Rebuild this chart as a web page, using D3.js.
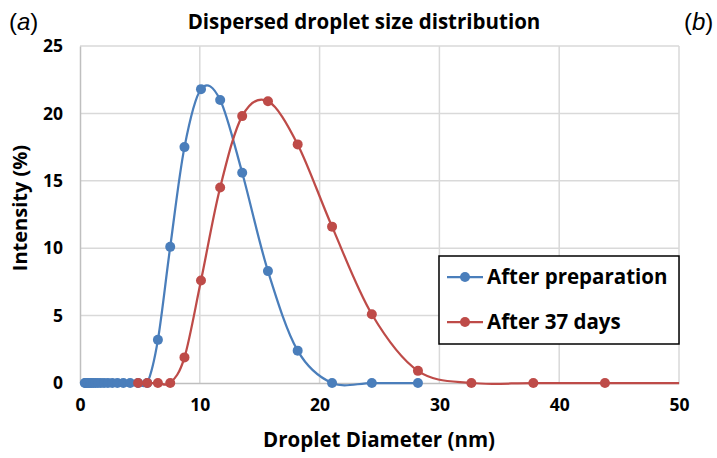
<!DOCTYPE html>
<html>
<head>
<meta charset="utf-8">
<script src="https://cdn.jsdelivr.net/npm/d3@7"></script>
<style>
  body { margin: 0; background: #fff; }
  svg { font-family: "Open Sans", "Noto Sans", sans-serif; }
</style>
</head>
<body>
<svg width="717" height="458"></svg>
<script>
// DLS size bins (nm) and intensities (%)
var prepSizes = [0.4, 0.4632, 0.5365, 0.6213, 0.7195, 0.8332, 0.9649, 1.117, 1.294, 1.499, 1.736, 2.01, 2.328, 2.696, 3.122, 3.615, 4.187, 4.849, 5.615, 6.503, 7.531, 8.721, 10.1, 11.7, 13.54, 15.69, 18.17, 21.04, 24.36, 28.21];
var prepValues = [0, 0, 0, 0, 0, 0, 0, 0, 0, 0, 0, 0, 0, 0, 0, 0, 0, 0, 0, 3.2, 10.1, 17.5, 21.8, 21.0, 15.6, 8.3, 2.4, 0, 0, 0];
var daysSizes = [4.849, 5.615, 6.503, 7.531, 8.721, 10.1, 11.7, 13.54, 15.69, 18.17, 21.04, 24.36, 28.21, 32.67, 37.84, 43.82, 50.75];
var daysValues = [0, 0, 0, 0, 1.9, 7.6, 14.5, 19.8, 20.9, 17.7, 11.6, 5.1, 0.9, 0, 0, 0, 0];
var xTicks = [0, 10, 20, 30, 40, 50];
var yTicks = [0, 5, 10, 15, 20, 25];
var seriesNames = ["After preparation", "After 37 days"];
var colors = ["#4A7EBB", "#BE4B48"];

var svg = d3.select("svg"),
    margin = {top: 46, right: 38, bottom: 75, left: 80},
    w = +svg.attr("width") - margin.left - margin.right,
    h = +svg.attr("height") - margin.top - margin.bottom;

var xScale = d3.scaleLinear().domain([0, 50]).range([0, w]),
    yScale = d3.scaleLinear().domain([0, 25]).range([h, 0]);

var g = svg.append("g")
    .attr("transform", "translate(" + margin.left + "," + margin.top + ")");

svg.append("defs").append("clipPath").attr("id", "plotclip")
  .append("rect").attr("x", -6).attr("y", -6).attr("width", w + 6).attr("height", h + 12);

// gridlines
g.append("g").selectAll("line").data(yTicks.slice(1)).enter().append("line")
    .attr("x1", 0).attr("x2", w)
    .attr("y1", function(d) { return yScale(d); })
    .attr("y2", function(d) { return yScale(d); })
    .attr("stroke", "#d9d9d9").attr("stroke-width", 1.5);
g.append("g").selectAll("line").data(xTicks.slice(1)).enter().append("line")
    .attr("y1", 0).attr("y2", h)
    .attr("x1", function(d) { return xScale(d); })
    .attr("x2", function(d) { return xScale(d); })
    .attr("stroke", "#d9d9d9").attr("stroke-width", 1.5);

// axes
var xAxis = g.append("g")
    .attr("transform", "translate(0," + h + ")")
    .call(d3.axisBottom(xScale).tickValues(xTicks).tickSize(0).tickPadding(16));
var yAxis = g.append("g")
    .call(d3.axisLeft(yScale).tickValues(yTicks).tickSize(0).tickPadding(17));
[xAxis, yAxis].forEach(function(a) {
  a.select(".domain").attr("stroke", "#bfbfbf").attr("stroke-width", 1.5);
  a.selectAll("text")
    .attr("font-family", "'Open Sans', sans-serif")
    .attr("font-size", "17.5px")
    .attr("font-weight", "bold")
    .attr("fill", "#000");
});

// series
var line = d3.line()
    .x(function(d) { return xScale(d[0]); })
    .y(function(d) { return yScale(d[1]); })
    .curve(d3.curveCardinal.tension(0));

var series = [d3.zip(prepSizes, prepValues), d3.zip(daysSizes, daysValues)];
var plot = g.append("g").attr("clip-path", "url(#plotclip)");
series.forEach(function(data, i) {
  var s = plot.append("g");
  s.append("path").datum(data)
    .attr("d", line)
    .attr("fill", "none")
    .attr("stroke", colors[i])
    .attr("stroke-width", 2.25);
  s.selectAll("circle").data(data).enter().append("circle")
    .attr("cx", function(d) { return xScale(d[0]); })
    .attr("cy", function(d) { return yScale(d[1]); })
    .attr("r", 5)
    .attr("fill", colors[i]);
});

// legend
var legend = svg.append("g").attr("transform", "translate(439,256)");
legend.append("rect")
    .attr("width", 240).attr("height", 88)
    .attr("fill", "#fff").attr("stroke", "#000").attr("stroke-width", 1.5);
seriesNames.forEach(function(name, i) {
  var ly = 21 + i * 45;
  legend.append("line").attr("x1", 8).attr("x2", 44).attr("y1", ly).attr("y2", ly)
    .attr("stroke", colors[i]).attr("stroke-width", 2.25);
  legend.append("circle").attr("cx", 26).attr("cy", ly).attr("r", 5).attr("fill", colors[i]);
  legend.append("text").attr("x", 48).attr("y", ly).attr("dy", "0.35em")
    .attr("font-size", "20.5px").attr("font-weight", "bold").text(name);
});

// titles
svg.append("text")
    .attr("x", 364).attr("y", 22).attr("dy", "0.35em")
    .attr("text-anchor", "middle")
    .attr("font-size", "20.5px").attr("font-weight", "bold")
    .text("Dispersed droplet size distribution");

svg.append("text")
    .attr("x", 379).attr("y", 440).attr("dy", "0.35em")
    .attr("text-anchor", "middle")
    .attr("font-size", "20.5px").attr("font-weight", "bold")
    .text("Droplet Diameter (nm)");

svg.append("text")
    .attr("transform", "translate(20,208) rotate(-90)")
    .attr("dy", "0.35em")
    .attr("text-anchor", "middle")
    .attr("font-size", "20px").attr("font-weight", "bold")
    .text("Intensity (%)");

[["a", 9], ["b", 684]].forEach(function(p) {
  var t = svg.append("text").attr("x", p[1]).attr("y", 22).attr("dy", "0.35em")
    .attr("font-family", "'Liberation Sans', Arial, sans-serif")
    .attr("font-size", "24px");
  t.append("tspan").text("(");
  t.append("tspan").attr("font-style", "italic").text(p[0]);
  t.append("tspan").text(")");
});
</script>
</body>
</html>
